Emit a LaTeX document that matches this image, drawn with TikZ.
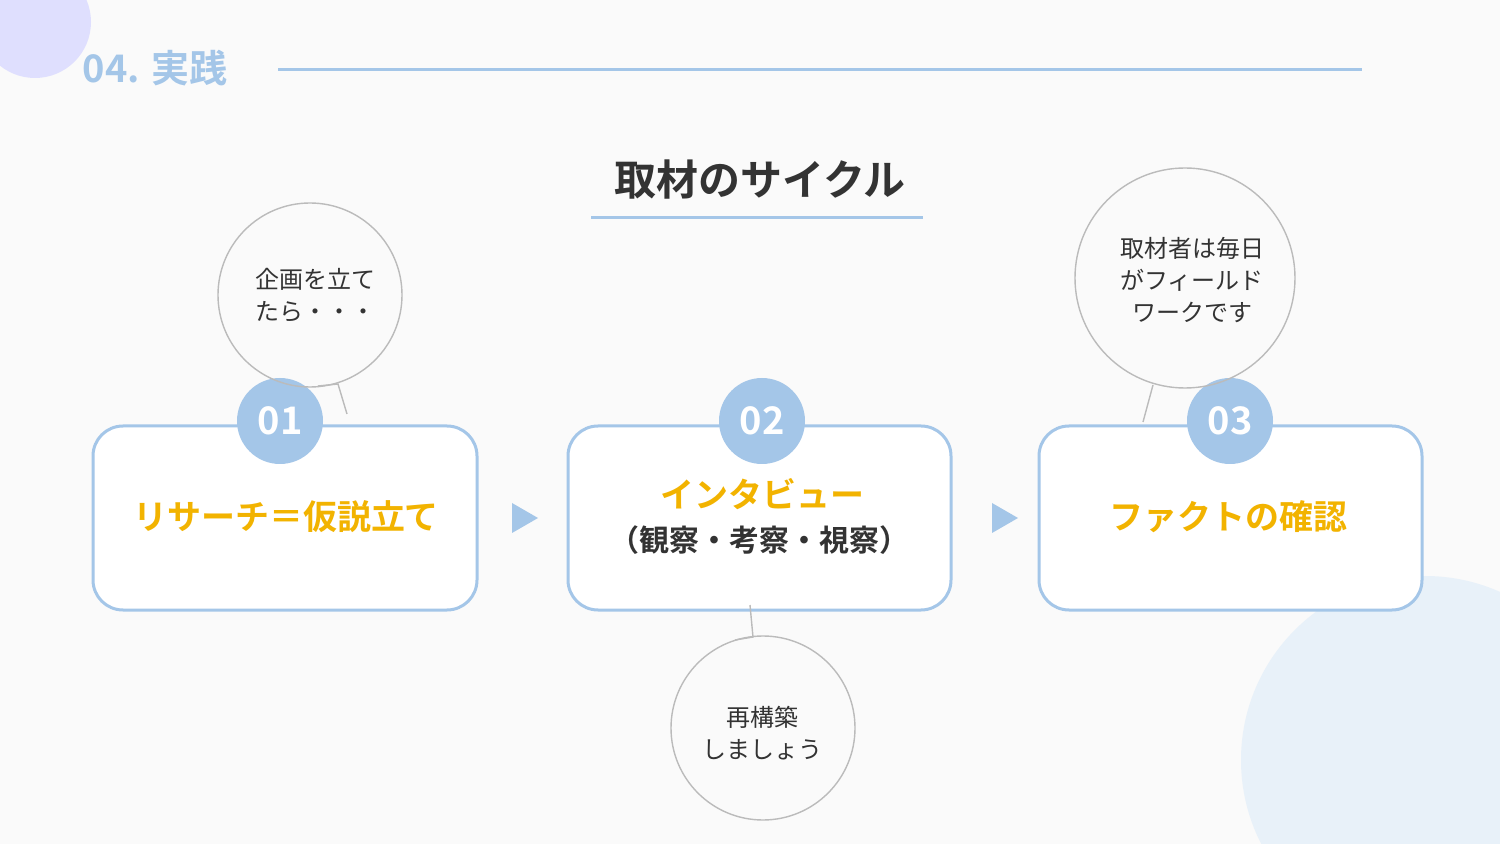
\documentclass[tikz,border=0pt]{standalone}
\usepackage{fontspec}
\setmainfont{Noto Sans CJK JP}
\newfontfamily\jpbold{Noto Sans CJK JP Bold}
\usetikzlibrary{positioning}
\definecolor{skyblue}{HTML}{A4C6E8}
\definecolor{gold}{HTML}{F2B300}
\definecolor{ink}{HTML}{333333}
\definecolor{bubblegray}{HTML}{BBBBBB}
\begin{document}
\begin{tikzpicture}[x=0.5pt,y=-0.5pt,
        stepbox/.style = {draw=skyblue, line width=1.5pt, fill=white, rounded corners=15pt},
        numdot/.style  = {circle, fill=skyblue, minimum size=43pt, inner sep=0pt, text=white, font=\jpbold\fontsize{19}{19}\selectfont},
        steptext/.style = {text=gold, font=\jpbold\fontsize{17}{20}\selectfont, align=center},
        bubble/.style  = {draw=bubblegray, line width=0.7pt},
        bubbletext/.style = {text=ink, font=\fontsize{12}{16}\selectfont, align=center},
        arrowtip/.style = {fill=skyblue}]
        % background and corner circles
        \fill[white!98!black] (0,0) rectangle (1500,844);
        \useasboundingbox (0,0) rectangle (1500,844);
        \fill[blue!15!white, opacity=0.8] (35,22) circle (28pt);
        \fill[skyblue!25!white] (1425,760) circle (92pt);
        % header
        \node[text=skyblue, font=\jpbold\fontsize{19}{19}\selectfont] (head) at (155,68) {04. 実践};
        \coordinate (hl) at (278,70);
        \coordinate (hr) at (1362,70);
        \draw[skyblue, line width=1.5pt] (hl) -- (hr);
        \node[text=ink, font=\jpbold\fontsize{21}{21}\selectfont] (title) at (760,180) {取材のサイクル};
        \draw[skyblue, line width=1.5pt] (591,218) -- (923,218);
        % boxes
        \draw[stepbox] (93,426) rectangle (477,610);
        \draw[stepbox] (568,426) rectangle (951,610);
        \draw[stepbox] (1039,426) rectangle (1422,610);
        \node[numdot] (n1) at (280,421) {01};
        \node[numdot] (n2) at (762,421) {02};
        \node[numdot] (n3) at (1230,421) {03};
        \node[steptext] (t1) at (286,517) {リサーチ＝仮説立て};
        \node[steptext] (t2) at (762,494) {インタビュー};
        \node[text=ink, font=\jpbold\fontsize{15}{18}\selectfont] (t2b) at (759,540) {（観察・考察・視察）};
        \node[steptext] (t3) at (1228,517) {ファクトの確認};
        % arrows
        \fill[arrowtip] (512,503) -- (538,518) -- (512,533) -- cycle;
        \fill[arrowtip] (992,503) -- (1018,518) -- (992,533) -- cycle;
        % bubbles
        \draw[bubble] (310,295) circle (46pt);
        \draw[bubble] (318,386) -- (338,384) -- (347,414);
        \node[bubbletext] (b1) at (315,295) {企画を立て\\たら・・・};
        \draw[bubble] (1185,278) circle (55pt);
        \draw[bubble] (1153,385) -- (1143,422);
        \node[bubbletext] (b2) at (1192,280) {取材者は毎日\\がフィールド\\ワークです};
        \draw[bubble] (763,728) circle (46pt);
        \draw[bubble] (750,605) -- (753,637) -- (735,640);
        \node[bubbletext] (b3) at (762,733) {再構築\\しましょう};
\end{tikzpicture}
\end{document}
